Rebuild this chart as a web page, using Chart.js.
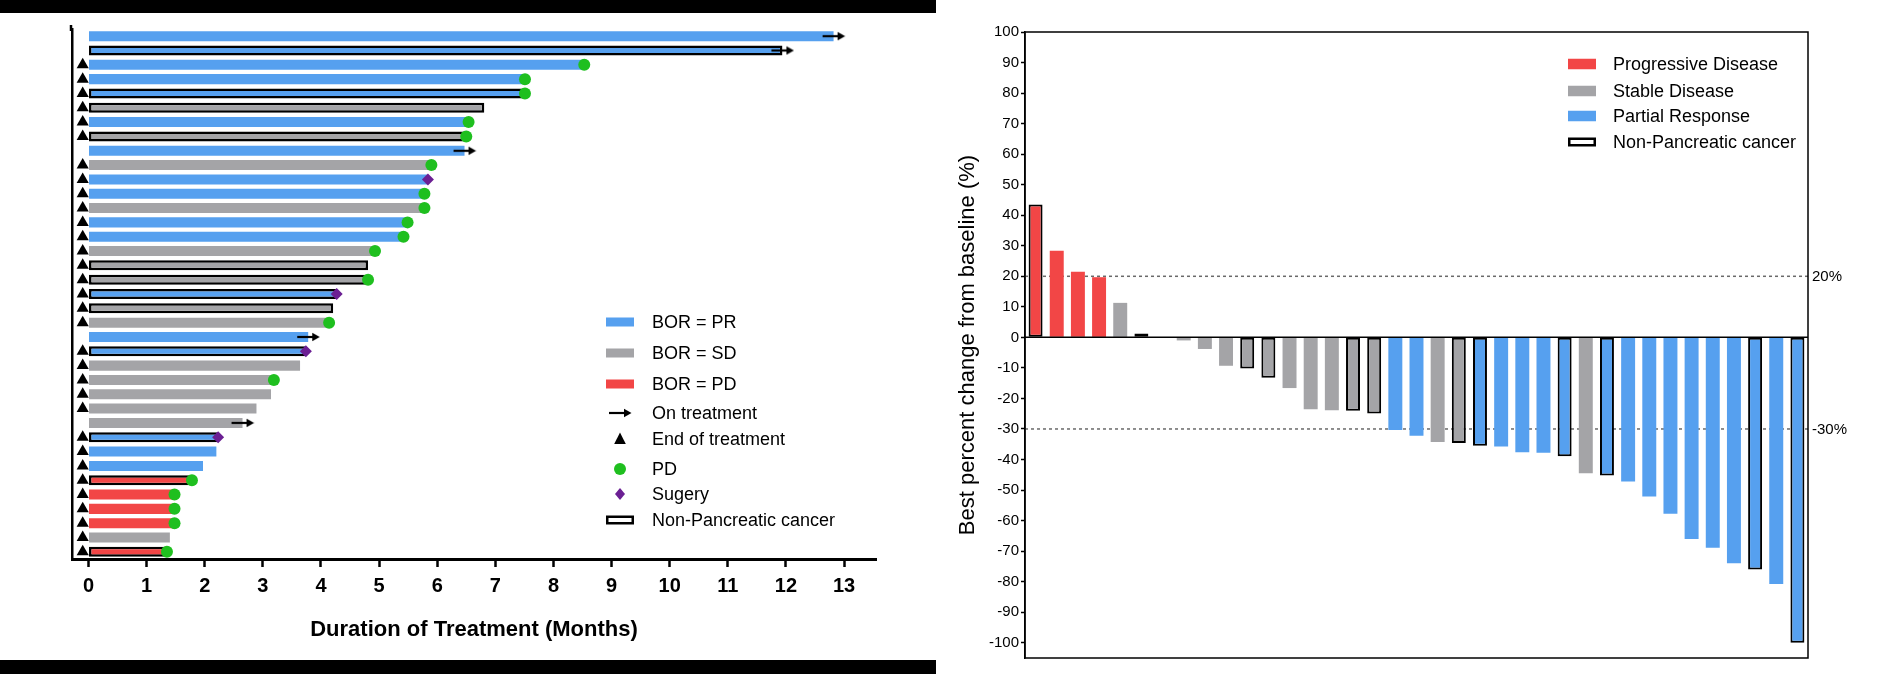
<!DOCTYPE html>
<html>
<head>
<meta charset="utf-8">
<title>Duration of treatment and best response</title>
<script src="https://cdn.jsdelivr.net/npm/chart.js@4.4.1/dist/chart.umd.min.js"></script>
<style>
  html, body { margin: 0; padding: 0; background: #fff; }
  body { position: relative; width: 1881px; height: 674px; overflow: hidden; }
  .band { position: absolute; left: 0; width: 936px; background: #000; }
  #bandTop { top: 0; height: 13px; }
  #bandBottom { top: 660px; height: 14px; }
  #swimBox { position: absolute; left: 0; top: 13px; width: 936px; height: 647px; }
  #waterBox { position: absolute; left: 936px; top: 0; width: 945px; height: 674px; }
</style>
</head>
<body>
<div class="band" id="bandTop"></div>
<div class="band" id="bandBottom"></div>
<div id="swimBox"><canvas id="swimChart"></canvas></div>
<div id="waterBox"><canvas id="waterChart"></canvas></div>

<script>
// ---- Swimmer plot data (one row per patient, top to bottom) ----
const swimPatients = Array.from({ length: 37 }, (_, i) => "S" + (i + 1));
const durationMonths = [12.82, 11.94, 8.53, 7.51, 7.51, 6.81, 6.54, 6.50, 6.47, 5.90,
                        5.84, 5.78, 5.78, 5.49, 5.42, 4.93, 4.81, 4.81, 4.27, 4.21,
                        4.14, 3.78, 3.74, 3.64, 3.19, 3.14, 2.89, 2.65, 2.23, 2.20,
                        1.97, 1.78, 1.48, 1.48, 1.48, 1.40, 1.35];
const swimResponse = ["PR", "PR", "PR", "PR", "PR", "SD", "PR", "SD", "PR", "SD",
                      "PR", "PR", "SD", "PR", "PR", "SD", "SD", "SD", "PR", "SD",
                      "SD", "PR", "PR", "SD", "SD", "SD", "SD", "SD", "PR", "PR",
                      "PR", "PD", "PD", "PD", "PD", "SD", "PD"];
const swimNonPanc = [0, 1, 0, 0, 1, 1, 0, 1, 0, 0,
                     0, 0, 0, 0, 0, 0, 1, 1, 1, 1,
                     0, 0, 1, 0, 0, 0, 0, 0, 1, 0,
                     0, 1, 0, 0, 0, 0, 1];
// marker at end of bar: on = on treatment, pd = PD, surg = surgery, "" = none
const swimEvent = ["on", "on", "pd", "pd", "pd", "", "pd", "pd", "on", "pd",
                   "surg", "pd", "pd", "pd", "pd", "pd", "", "pd", "surg", "",
                   "pd", "on", "surg", "", "pd", "", "", "on", "surg", "",
                   "", "pd", "pd", "pd", "pd", "", "pd"];
const endOfTreatmentAt = -0.1;
const swimTicks = [0, 1, 2, 3, 4, 5, 6, 7, 8, 9, 10, 11, 12, 13];

// ---- Waterfall plot data (left to right) ----
const waterPatients = Array.from({ length: 37 }, (_, i) => "W" + (i + 1));
const bestChange = [43.5, 28.4, 21.5, 19.7, 11.3, 1.3, null, -1.0, -3.8, -9.3,
                    -10.2, -13.2, -16.6, -23.5, -23.9, -24.0, -24.9, -30.3, -32.2, -34.3,
                    -34.6, -35.5, -35.7, -37.6, -37.8, -38.9, -44.5, -45.2, -47.2, -52.1,
                    -57.8, -66.0, -68.9, -74.0, -76.0, -80.8, -100.0];
const waterResponse = ["PD", "PD", "PD", "PD", "SD", "SD", "PD", "SD", "SD", "SD",
                       "SD", "SD", "SD", "SD", "SD", "SD", "SD", "PR", "PR", "SD",
                       "SD", "PR", "PR", "PR", "PR", "PR", "SD", "PR", "PR", "PR",
                       "PR", "PR", "PR", "PR", "PR", "PR", "PR"];
const waterNonPanc = [1, 0, 0, 0, 0, 1, 0, 0, 0, 0,
                      1, 1, 0, 0, 0, 1, 1, 0, 0, 0,
                      1, 1, 0, 0, 0, 1, 0, 1, 0, 0,
                      0, 0, 0, 0, 1, 0, 1];
const waterTicks = [100, 90, 80, 70, 60, 50, 40, 30, 20, 10, 0,
                    -10, -20, -30, -40, -50, -60, -70, -80, -90, -100];
const thresholdValues = [20, -30];
const thresholdLabels = ["20%", "-30%"];

// ---- Styles ----
const PR_BLUE = "#56a0ef";
const SD_GRAY = "#a4a4a7";
const PD_RED = "#f24646";
const PD_GREEN = "#1fbf1f";
const SURG_PURPLE = "#6b1f93";
const colorOf = { PR: PR_BLUE, SD: SD_GRAY, PD: PD_RED };
const FONT = '"Liberation Sans", Arial, Helvetica, sans-serif';

Chart.defaults.font.family = FONT;
Chart.defaults.color = "#000";
Chart.defaults.animation = false;

// arrow glyph for "on treatment"
const arrowImg = (() => {
    const c = document.createElement("canvas");
    c.width = 24; c.height = 10;
    const g = c.getContext("2d");
    g.strokeStyle = "#000"; g.lineWidth = 2.2;
    g.beginPath(); g.moveTo(1, 5); g.lineTo(18, 5); g.stroke();
    g.fillStyle = "#000";
    g.beginPath(); g.moveTo(23.5, 5); g.lineTo(16, 0.8); g.lineTo(16, 9.2); g.closePath(); g.fill();
    return c;
})();

function eventPoints(kind) {
    return swimPatients
        .map((p, i) => swimEvent[i] === kind ? { x: durationMonths[i], y: p } : null)
        .filter(Boolean);
}
const endPoints = swimPatients
    .map((p, i) => swimEvent[i] !== "on" ? { x: endOfTreatmentAt, y: p } : null)
    .filter(Boolean);

// legend symbols
function drawSymbol(ctx, kind, cx, cy, color, w, h) {
    ctx.save();
    if (kind === "bar") {
        ctx.fillStyle = color;
        ctx.fillRect(cx - w / 2, cy - h / 2, w, h);
    } else if (kind === "box") {
        ctx.fillStyle = "#fff";
        ctx.strokeStyle = "#000";
        ctx.lineWidth = 2.5;
        ctx.fillRect(cx - w / 2, cy - h / 2, w, h);
        ctx.strokeRect(cx - w / 2 + 1.25, cy - h / 2 + 1.25, w - 2.5, h - 2.5);
    } else if (kind === "arrow") {
        ctx.drawImage(arrowImg, cx - 12, cy - 5);
    } else if (kind === "triangle") {
        ctx.fillStyle = "#000";
        ctx.beginPath();
        ctx.moveTo(cx, cy - 6.5); ctx.lineTo(cx + 5.8, cy + 5); ctx.lineTo(cx - 5.8, cy + 5);
        ctx.closePath(); ctx.fill();
    } else if (kind === "circle") {
        ctx.fillStyle = PD_GREEN;
        ctx.beginPath(); ctx.arc(cx, cy, 6, 0, Math.PI * 2); ctx.fill();
    } else if (kind === "diamond") {
        ctx.fillStyle = SURG_PURPLE;
        ctx.beginPath();
        ctx.moveTo(cx, cy - 6); ctx.lineTo(cx + 5, cy); ctx.lineTo(cx, cy + 6); ctx.lineTo(cx - 5, cy);
        ctx.closePath(); ctx.fill();
    }
    ctx.restore();
}

const swimLegendItems = [
    ["BOR = PR", "bar", PR_BLUE, 309],
    ["BOR = SD", "bar", SD_GRAY, 340],
    ["BOR = PD", "bar", PD_RED, 371],
    ["On treatment", "arrow", null, 400],
    ["End of treatment", "triangle", null, 426],
    ["PD", "circle", null, 456],
    ["Sugery", "diamond", null, 481],
    ["Non-Pancreatic cancer", "box", null, 507]
];

const swimDecor = {
    id: "swimDecor",
    afterDraw(chart) {
        const ctx = chart.ctx;
        const a = chart.chartArea;
        // y axis line runs a little above the first row
        ctx.save();
        ctx.strokeStyle = "#000"; ctx.lineWidth = 2.5;
        ctx.beginPath(); ctx.moveTo(a.left - 1, 12); ctx.lineTo(a.left - 1, a.top + 2); ctx.stroke();
        ctx.restore();
        ctx.save();
        ctx.font = "18px " + FONT;
        ctx.textBaseline = "middle";
        ctx.fillStyle = "#000";
        swimLegendItems.forEach(([text, kind, color, y]) => {
            drawSymbol(ctx, kind, 620, y, color, 28, 9);
            ctx.fillText(text, 652, y + 1);
        });
        ctx.restore();
    }
};

const waterLegendItems = [
    ["Progressive Disease", "bar", PD_RED, 64],
    ["Stable Disease", "bar", SD_GRAY, 91],
    ["Partial Response", "bar", PR_BLUE, 116],
    ["Non-Pancreatic cancer", "box", null, 142]
];

const waterDecor = {
    id: "waterDecor",
    beforeDatasetsDraw(chart) {
        const { ctx, chartArea: a, scales: { y } } = chart;
        ctx.save();
        ctx.strokeStyle = "#6a6a6a"; ctx.lineWidth = 1.5; ctx.setLineDash([3, 3]);
        thresholdValues.forEach(v => {
            const py = y.getPixelForValue(v);
            ctx.beginPath(); ctx.moveTo(a.left, py); ctx.lineTo(a.right, py); ctx.stroke();
        });
        ctx.restore();
    },
    afterDatasetsDraw(chart) {
        const { ctx, chartArea: a, scales: { y } } = chart;
        ctx.save();
        ctx.strokeStyle = "#000"; ctx.lineWidth = 1.5;
        const y0 = y.getPixelForValue(0);
        ctx.beginPath(); ctx.moveTo(a.left, y0); ctx.lineTo(a.right, y0); ctx.stroke();
        ctx.strokeRect(a.left, a.top, a.right - a.left, a.bottom - a.top);
        ctx.font = "15px " + FONT;
        ctx.textBaseline = "middle";
        ctx.fillStyle = "#000";
        thresholdValues.forEach((v, i) => {
            ctx.fillText(thresholdLabels[i], a.right + 4, y.getPixelForValue(v) + 1);
        });
        ctx.font = "18px " + FONT;
        waterLegendItems.forEach(([text, kind, color, yy]) => {
            drawSymbol(ctx, kind, 646, yy, color, 28, kind === "box" ? 9 : 10.5);
            ctx.fillText(text, 677, yy + 1);
        });
        ctx.restore();
    }
};

// ---- Swimmer chart ----
new Chart(document.getElementById("swimChart"), {
    data: {
        labels: swimPatients,
        datasets: [
            {
                type: "line", label: "On treatment", data: eventPoints("on"), showLine: false,
                pointStyle: arrowImg, pointRadius: 6, clip: false, order: 0
            },
            {
                type: "line", label: "PD", data: eventPoints("pd"), showLine: false,
                pointStyle: "circle", pointRadius: 6, pointBackgroundColor: PD_GREEN,
                pointBorderWidth: 0, clip: false, order: 0
            },
            {
                type: "line", label: "Sugery", data: eventPoints("surg"), showLine: false,
                pointStyle: "rectRot", pointRadius: 6, pointBackgroundColor: SURG_PURPLE,
                pointBorderWidth: 0, clip: false, order: 0
            },
            {
                type: "line", label: "End of treatment", data: endPoints, showLine: false,
                pointStyle: "triangle", pointRadius: 7, pointBackgroundColor: "#000",
                pointBorderWidth: 0, clip: false, order: 0
            },
            {
                type: "bar", label: "Duration", data: durationMonths,
                backgroundColor: swimResponse.map(r => colorOf[r]),
                borderColor: "#000",
                borderWidth: swimNonPanc.map(n => n ? 2.5 : 0),
                borderSkipped: false,
                barPercentage: 0.7, categoryPercentage: 1, order: 1
            }
        ]
    },
    options: {
        indexAxis: "y",
        responsive: true,
        maintainAspectRatio: false,
        layout: { padding: { top: 16, right: 60, left: 0, bottom: 0 } },
        plugins: { legend: { display: false }, tooltip: { enabled: false } },
        scales: {
            x: {
                type: "linear", min: -0.284, max: 13.55,
                afterBuildTicks: s => { s.ticks = swimTicks.map(v => ({ value: v })); },
                afterFit: s => { s.height = 101; },
                grid: { drawOnChartArea: false, drawTicks: true, tickLength: 8, tickWidth: 2.5, tickColor: "#000", color: "#000" },
                border: { display: true, color: "#000", width: 3 },
                ticks: { font: { size: 20, weight: "bold" }, padding: 7, color: "#000", maxRotation: 0 },
                title: {
                    display: true, text: "Duration of Treatment (Months)", color: "#000",
                    font: { size: 22, weight: "bold" }, padding: { top: 0, bottom: 17 }
                }
            },
            y: {
                type: "category",
                afterFit: s => { s.width = 72; },
                ticks: { display: false },
                grid: { display: true, drawOnChartArea: false, drawTicks: false },
                border: { display: true, color: "#000", width: 2.5 }
            }
        }
    },
    plugins: [swimDecor]
});

// ---- Waterfall chart ----
new Chart(document.getElementById("waterChart"), {
    type: "bar",
    data: {
        labels: waterPatients,
        datasets: [{
            label: "Best percent change",
            data: bestChange,
            backgroundColor: waterResponse.map(r => colorOf[r]),
            borderColor: "#000",
            borderWidth: waterNonPanc.map(n => n ? 2 : 0),
            borderSkipped: false,
            barPercentage: 0.66, categoryPercentage: 1
        }]
    },
    options: {
        responsive: true,
        maintainAspectRatio: false,
        layout: { padding: { top: 32, right: 73, bottom: 16, left: 0 } },
        plugins: { legend: { display: false }, tooltip: { enabled: false } },
        scales: {
            x: { display: false, offset: true },
            y: {
                min: -105, max: 100,
                afterBuildTicks: s => { s.ticks = waterTicks.map(v => ({ value: v })); },
                afterFit: s => { s.width = 89; },
                ticks: { font: { size: 15 }, padding: 2, color: "#000" },
                grid: { drawOnChartArea: false, tickLength: 4, tickWidth: 1.5, tickColor: "#000" },
                border: { display: true, width: 1.5, color: "#000" },
                title: {
                    display: true, text: "Best percent change from baseline (%)", color: "#000",
                    font: { size: 22 }, padding: { top: 19, bottom: 0 }
                }
            }
        }
    },
    plugins: [waterDecor]
});
</script>
</body>
</html>
